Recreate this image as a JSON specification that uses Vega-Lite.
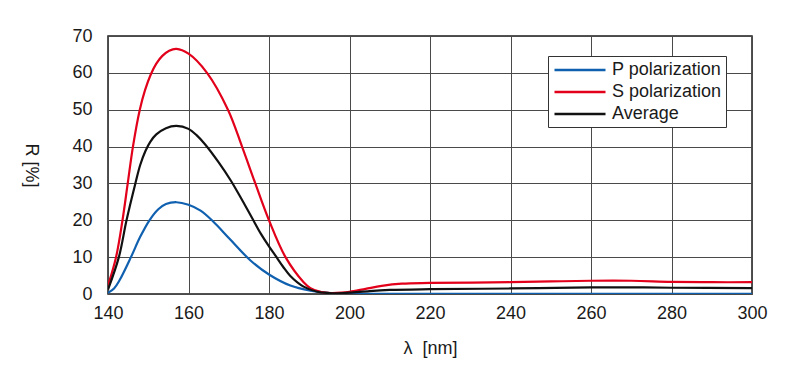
{
  "$schema": "https://vega.github.io/schema/vega-lite/v6.json",
  "autosize": {"type": "none"},
  "width": 644,
  "height": 258,
  "padding": {"left": 108, "top": 36, "right": 48, "bottom": 86},
  "background": "white",
  "config": {
    "font": "Liberation Sans",
    "view": {"stroke": "#1a1a1a", "strokeWidth": 1.5},
    "axis": {"grid": true, "gridColor": "#4a4a4a", "gridWidth": 1, "gridOpacity": 1, "domain": false, "ticks": false, "labelFontSize": 18, "labelColor": "#1a1a1a", "titleFontSize": 18, "titleFontWeight": "normal", "titleColor": "#1a1a1a"}
  },
  "data": {"values": [
    {"wl": 140, "R": 0.3, "s": "P polarization"},
    {"wl": 141.5, "R": 1.5, "s": "P polarization"},
    {"wl": 142.8, "R": 3.6, "s": "P polarization"},
    {"wl": 145.7, "R": 10, "s": "P polarization"},
    {"wl": 148, "R": 15.5, "s": "P polarization"},
    {"wl": 150.3, "R": 20, "s": "P polarization"},
    {"wl": 152.5, "R": 23, "s": "P polarization"},
    {"wl": 154.4, "R": 24.4, "s": "P polarization"},
    {"wl": 157, "R": 24.9, "s": "P polarization"},
    {"wl": 160, "R": 24.2, "s": "P polarization"},
    {"wl": 163, "R": 22.6, "s": "P polarization"},
    {"wl": 166, "R": 19.8, "s": "P polarization"},
    {"wl": 170.2, "R": 15, "s": "P polarization"},
    {"wl": 175.4, "R": 9.1, "s": "P polarization"},
    {"wl": 180, "R": 5.3, "s": "P polarization"},
    {"wl": 185.3, "R": 2.3, "s": "P polarization"},
    {"wl": 190.3, "R": 0.9, "s": "P polarization"},
    {"wl": 195, "R": 0.25, "s": "P polarization"},
    {"wl": 200, "R": 0.08, "s": "P polarization"},
    {"wl": 210, "R": 0.05, "s": "P polarization"},
    {"wl": 220, "R": 0.05, "s": "P polarization"},
    {"wl": 260, "R": 0.05, "s": "P polarization"},
    {"wl": 300, "R": 0.05, "s": "P polarization"},
    {"wl": 140, "R": 2.3, "s": "S polarization"},
    {"wl": 142, "R": 10, "s": "S polarization"},
    {"wl": 143.6, "R": 20, "s": "S polarization"},
    {"wl": 144.9, "R": 30, "s": "S polarization"},
    {"wl": 146.2, "R": 40, "s": "S polarization"},
    {"wl": 147.9, "R": 50, "s": "S polarization"},
    {"wl": 149.2, "R": 55.3, "s": "S polarization"},
    {"wl": 150.6, "R": 59.5, "s": "S polarization"},
    {"wl": 152, "R": 62.5, "s": "S polarization"},
    {"wl": 153.5, "R": 64.6, "s": "S polarization"},
    {"wl": 155.2, "R": 66, "s": "S polarization"},
    {"wl": 157, "R": 66.5, "s": "S polarization"},
    {"wl": 160, "R": 65.2, "s": "S polarization"},
    {"wl": 164.6, "R": 60, "s": "S polarization"},
    {"wl": 169.8, "R": 50, "s": "S polarization"},
    {"wl": 173.3, "R": 40, "s": "S polarization"},
    {"wl": 176.6, "R": 30, "s": "S polarization"},
    {"wl": 180, "R": 20, "s": "S polarization"},
    {"wl": 184.1, "R": 10, "s": "S polarization"},
    {"wl": 188.6, "R": 3.2, "s": "S polarization"},
    {"wl": 190.3, "R": 1.6, "s": "S polarization"},
    {"wl": 193, "R": 0.5, "s": "S polarization"},
    {"wl": 195.5, "R": 0.25, "s": "S polarization"},
    {"wl": 198, "R": 0.35, "s": "S polarization"},
    {"wl": 200, "R": 0.6, "s": "S polarization"},
    {"wl": 204, "R": 1.4, "s": "S polarization"},
    {"wl": 208, "R": 2.2, "s": "S polarization"},
    {"wl": 213, "R": 2.8, "s": "S polarization"},
    {"wl": 220, "R": 3.0, "s": "S polarization"},
    {"wl": 240, "R": 3.2, "s": "S polarization"},
    {"wl": 250, "R": 3.4, "s": "S polarization"},
    {"wl": 260, "R": 3.6, "s": "S polarization"},
    {"wl": 270, "R": 3.6, "s": "S polarization"},
    {"wl": 280, "R": 3.3, "s": "S polarization"},
    {"wl": 290, "R": 3.2, "s": "S polarization"},
    {"wl": 300, "R": 3.2, "s": "S polarization"},
    {"wl": 140, "R": 1.2, "s": "Average"},
    {"wl": 142.7, "R": 10, "s": "Average"},
    {"wl": 144.6, "R": 20, "s": "Average"},
    {"wl": 146.8, "R": 30, "s": "Average"},
    {"wl": 148, "R": 35, "s": "Average"},
    {"wl": 149.3, "R": 38.8, "s": "Average"},
    {"wl": 150.5, "R": 41.3, "s": "Average"},
    {"wl": 152, "R": 43.3, "s": "Average"},
    {"wl": 154.4, "R": 45, "s": "Average"},
    {"wl": 157, "R": 45.6, "s": "Average"},
    {"wl": 160, "R": 44.8, "s": "Average"},
    {"wl": 162, "R": 43.1, "s": "Average"},
    {"wl": 164.2, "R": 40.5, "s": "Average"},
    {"wl": 167.5, "R": 35.7, "s": "Average"},
    {"wl": 170.5, "R": 30.8, "s": "Average"},
    {"wl": 173, "R": 26.1, "s": "Average"},
    {"wl": 175.8, "R": 20.6, "s": "Average"},
    {"wl": 178, "R": 16.3, "s": "Average"},
    {"wl": 180, "R": 12.9, "s": "Average"},
    {"wl": 181.6, "R": 10.4, "s": "Average"},
    {"wl": 183.5, "R": 7.4, "s": "Average"},
    {"wl": 185.3, "R": 4.9, "s": "Average"},
    {"wl": 188.6, "R": 2.0, "s": "Average"},
    {"wl": 192, "R": 0.6, "s": "Average"},
    {"wl": 195, "R": 0.25, "s": "Average"},
    {"wl": 197, "R": 0.2, "s": "Average"},
    {"wl": 200, "R": 0.35, "s": "Average"},
    {"wl": 205, "R": 0.8, "s": "Average"},
    {"wl": 210, "R": 1.1, "s": "Average"},
    {"wl": 220, "R": 1.3, "s": "Average"},
    {"wl": 240, "R": 1.5, "s": "Average"},
    {"wl": 260, "R": 1.8, "s": "Average"},
    {"wl": 270, "R": 1.8, "s": "Average"},
    {"wl": 280, "R": 1.7, "s": "Average"},
    {"wl": 300, "R": 1.6, "s": "Average"}
  ]},
  "mark": {"type": "line", "interpolate": "catmull-rom", "strokeWidth": 2.2, "clip": true},
  "encoding": {
    "x": {"field": "wl", "type": "quantitative",
      "scale": {"domain": [140, 300], "nice": false, "zero": false},
      "axis": {"values": [140, 160, 180, 200, 220, 240, 260, 280, 300], "labelPadding": 10, "labelFlush": false, "title": "λ\u00a0\u00a0[nm]", "titleY": 54, "titleBaseline": "middle"}},
    "y": {"field": "R", "type": "quantitative",
      "scale": {"domain": [0, 70], "nice": false},
      "axis": {"values": [0, 10, 20, 30, 40, 50, 60, 70], "labelPadding": 16, "labelFlush": false, "title": "R [%]", "titleAngle": 90, "titleX": -78, "titleY": 129, "titleAlign": "center", "titleBaseline": "middle"}},
    "color": {"field": "s", "type": "nominal",
      "scale": {"domain": ["P polarization", "S polarization", "Average"], "range": ["#1060b0", "#e2001a", "#111111"]},
      "legend": {"title": null, "orient": "none", "legendX": 440, "legendY": 20, "padding": 4, "symbolType": "M-3,0H3", "symbolSize": 289, "symbolStrokeWidth": 2.6, "symbolOffset": 18, "labelOffset": 22, "labelFontSize": 18, "labelColor": "#1a1a1a", "rowPadding": 3, "fillColor": "white", "strokeColor": "#333333"}}
  }
}
